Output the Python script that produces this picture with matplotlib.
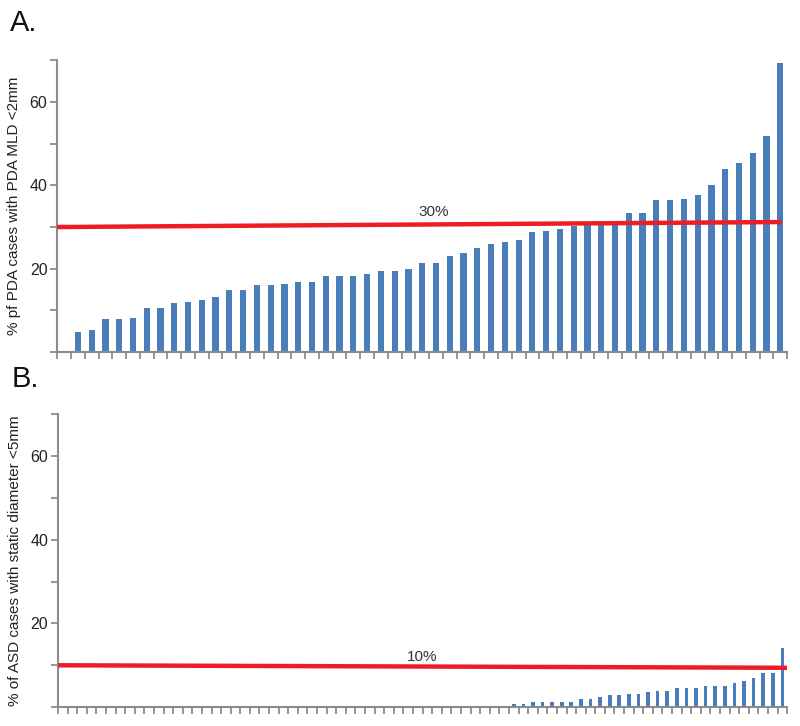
import matplotlib
matplotlib.use("Agg")
import matplotlib.pyplot as plt
import numpy as np

plt.rcParams['font.family'] = ['Liberation Sans', 'DejaVu Sans']

# Panel A: % of PDA cases with PDA MLD <2mm (53 slots, first empty)
pda_values = [0,
    4.8, 5.2, 7.9, 7.9, 8.3, 10.6, 10.6, 11.7, 12.1, 12.5, 13.3, 14.8, 14.8,
    16.0, 16.0, 16.4, 16.8, 16.8, 18.3, 18.3, 18.3, 18.7, 19.5, 19.5, 19.9,
    21.4, 21.4, 23.0, 23.7, 24.9, 26.0, 26.4, 26.8, 28.7, 29.1, 29.5, 30.3,
    30.7, 30.7, 31.5, 33.4, 33.4, 36.4, 36.4, 36.8, 37.6, 40.0, 43.8, 45.3,
    47.8, 51.9, 69.3]
pda_threshold = (30.0, 31.2)
pda_label = "30%"

# Panel B: % of ASD cases with static diameter <5mm (76 slots, 47 empty)
asd_values = [0] * 47 + [
    0.8, 0.8, 1.3, 1.3, 1.3, 1.3, 1.3, 1.9, 1.9, 2.4, 2.8, 2.8, 3.2, 3.2,
    3.5, 3.9, 3.9, 4.6, 4.6, 4.6, 5.0, 5.0, 5.0, 5.8, 6.2, 6.9, 8.1, 8.1, 14.1]
asd_threshold = (10.0, 9.4)
asd_label = "10%"

ylabels = ["% pf PDA cases with PDA MLD <2mm",
           "% of ASD cases with static diameter <5mm"]
panel_letters = ["A.", "B."]

bar_color = "#4a7ebb"
axis_color = "#8c8c8c"
red = "#ee1c25"

fig = plt.figure(figsize=(8, 7.26), dpi=100)
axA = fig.add_axes([0.0715, 0.515, 0.9125, 0.402])
axB = fig.add_axes([0.0725, 0.026, 0.9115, 0.4036])


def style(ax, n, ylabel):
    ax.set_xlim(-0.5, n - 0.5)
    ax.set_ylim(0, 70)
    for s in ['top', 'right']:
        ax.spines[s].set_visible(False)
    for s in ['left', 'bottom']:
        ax.spines[s].set_color(axis_color)
        ax.spines[s].set_linewidth(1.5)
    ax.set_yticks(np.arange(0, 71, 10))
    ax.set_yticklabels(['' if v not in (20, 40, 60) else str(v)
                        for v in range(0, 71, 10)])
    ax.set_xticks(np.arange(n + 1) - 0.5)
    ax.set_xticklabels([])
    ax.tick_params(axis='both', colors=axis_color, length=5, width=1.3,
                   labelcolor='#222222', labelsize=11.5)
    ax.tick_params(axis='y', pad=2)
    ax.set_ylabel(ylabel, fontsize=11, color='#222222', labelpad=6)


nA = len(pda_values)
xA = np.arange(nA)
axA.bar(xA, pda_values, width=0.45, color=bar_color, zorder=2)
style(axA, nA, ylabels[0])
axA.plot([-0.5, nA - 0.9], list(pda_threshold), color=red, lw=3.2,
         zorder=3, solid_capstyle='butt')
axA.text(26.8, 32.0, pda_label, fontsize=11, color='#333333',
         ha='center', va='bottom')

nB = len(asd_values)
xB = np.arange(nB)
axB.bar(xB, asd_values, width=0.38, color=bar_color, zorder=2)
style(axB, nB, ylabels[1])
axB.plot([-0.5, nB - 0.5], list(asd_threshold), color=red, lw=3.2,
         zorder=3, solid_capstyle='butt')
axB.text(37.5, 10.3, asd_label, fontsize=11, color='#333333',
         ha='center', va='bottom')

fig.text(0.012, 0.968, panel_letters[0], fontsize=21, color='#111111',
         ha='left', va='center')
fig.text(0.015, 0.478, panel_letters[1], fontsize=21, color='#111111',
         ha='left', va='center')

fig.savefig("out.png", dpi=100)
